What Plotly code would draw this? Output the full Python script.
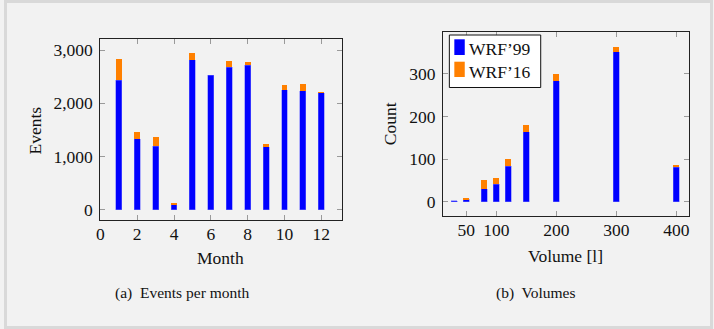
import plotly.graph_objects as go

# ---- data: (a) events per month ----
months = [1, 2, 3, 4, 5, 6, 7, 8, 9, 10, 11, 12]
events_wrf99 = [2438, 1335, 1192, 94, 2820, 2526, 2682, 2714, 1184, 2256, 2237, 2194]
events_wrf16 = [389, 126, 180, 38, 120, 0, 113, 62, 57, 82, 126, 18]
month_ticks = [0, 2, 4, 6, 8, 10, 12]
events_ticks = [0, 1000, 2000, 3000]

# ---- data: (b) volumes ----
volumes = [30, 50, 80, 100, 120, 150, 200, 300, 400]
count_wrf99 = [2, 5, 30, 41, 83, 164, 284, 352, 81]
count_wrf16 = [0, 3, 21, 15, 17, 17, 16, 11, 2]
volume_ticks = [50, 100, 200, 300, 400]
count_ticks = [0, 100, 200, 300]

series_names = ["WRF’99", "WRF’16"]

W, H = 714, 329
BLUE = "#0000ff"
ORANGE = "#ff8000"
COLORS = [BLUE, ORANGE]
FONT = "Liberation Serif"
FS = 17.5
TXT = "#111111"


def px(x):
    return x / W


def py(y):
    return 1 - y / H


fig = go.Figure()

fig.add_trace(go.Bar(x=months, y=events_wrf99, width=0.32, marker_color=BLUE,
                     marker_line=dict(color="#6a6aff", width=0.5),
                     xaxis="x", yaxis="y", name=series_names[0], showlegend=False))
fig.add_trace(go.Bar(x=months, y=events_wrf16, width=0.32, marker_color=ORANGE,
                     marker_line=dict(width=0),
                     xaxis="x", yaxis="y", name=series_names[1], showlegend=False))
fig.add_trace(go.Bar(x=volumes, y=count_wrf99, width=9.8, marker_color=BLUE,
                     marker_line=dict(color="#6a6aff", width=0.5),
                     xaxis="x2", yaxis="y2", name=series_names[0], showlegend=False))
fig.add_trace(go.Bar(x=volumes, y=count_wrf16, width=9.8, marker_color=ORANGE,
                     marker_line=dict(width=0),
                     xaxis="x2", yaxis="y2", name=series_names[1], showlegend=False))

axis_common = dict(showline=True, linecolor="#222222", linewidth=1, mirror="allticks",
                   ticks="inside", ticklen=5, tickwidth=1, tickcolor="#9a9a9a",
                   showgrid=False, zeroline=False,
                   tickfont=dict(family=FONT, size=FS, color=TXT))

shapes = [dict(type="rect", xref="paper", yref="paper",
               x0=px(1.5), x1=px(712.5), y0=py(327.5), y1=py(1.5),
               line=dict(color="#d9d9d9", width=3), fillcolor="rgba(0,0,0,0)",
               layer="below")]

# legend box (drawn manually to match the compact pgfplots legend)
shapes.append(dict(type="rect", xref="paper", yref="paper",
                   x0=px(448.5), x1=px(540.5), y0=py(87.5), y1=py(35),
                   line=dict(color="#111111", width=1), fillcolor="#ffffff"))
swatch_rows = [(39.3, 55), (61.7, 77)]
for (t, b), c in zip(swatch_rows, COLORS):
    shapes.append(dict(type="rect", xref="paper", yref="paper",
                       x0=px(453.5), x1=px(464), y0=py(b), y1=py(t),
                       line=dict(width=0), fillcolor=c))

fig.update_layout(
    width=W, height=H,
    margin=dict(l=0, r=0, t=0, b=0),
    paper_bgcolor="#f2f2f2", plot_bgcolor="#f2f2f2",
    barmode="stack",
    showlegend=False,
    font=dict(family=FONT, size=FS, color=TXT),
    xaxis=dict(domain=[px(97), px(340)], range=[0, 13.1], tickvals=month_ticks,
               anchor="y", ticklabelstandoff=-2, **axis_common),
    yaxis=dict(domain=[py(220), py(39)], range=[-194, 3209], tickvals=events_ticks,
               tickformat=",", anchor="x", ticklabelstandoff=3, **axis_common),
    xaxis2=dict(domain=[px(442), px(689.7)], range=[11, 421], tickvals=volume_ticks,
                anchor="y2", ticklabelstandoff=-2, **axis_common),
    yaxis2=dict(domain=[py(216), py(32.3)], range=[-34, 398], tickvals=count_ticks,
                anchor="x2", ticklabelstandoff=3, **axis_common),
    shapes=shapes,
)

ann = [
    dict(text="Events", x=px(31.7), y=py(130), textangle=-90, size=FS, xa="center"),
    dict(text="Month", x=px(218.3), y=py(258), textangle=0, size=FS, xa="center"),
    dict(text="Count", x=px(388.7), y=py(123.3), textangle=-90, size=FS, xa="center"),
    dict(text="Volume [l]", x=px(565.5), y=py(256), textangle=0, size=FS, xa="center"),
    dict(text="(a)  Events per month", x=px(180), y=py(293), textangle=0, size=15.5, xa="center"),
    dict(text="(b)  Volumes", x=px(536), y=py(293), textangle=0, size=15.5, xa="center"),
    dict(text=series_names[0], x=px(467), y=py(48.5), textangle=0, size=FS, xa="left"),
    dict(text=series_names[1], x=px(467), y=py(71.5), textangle=0, size=FS, xa="left"),
]
for a in ann:
    fig.add_annotation(text=a["text"], x=a["x"], y=a["y"], xref="paper", yref="paper",
                       xanchor=a["xa"], yanchor="middle", showarrow=False,
                       textangle=a["textangle"], borderpad=0,
                       font=dict(family=FONT, size=a["size"], color=TXT))

fig.write_html("out.html")
